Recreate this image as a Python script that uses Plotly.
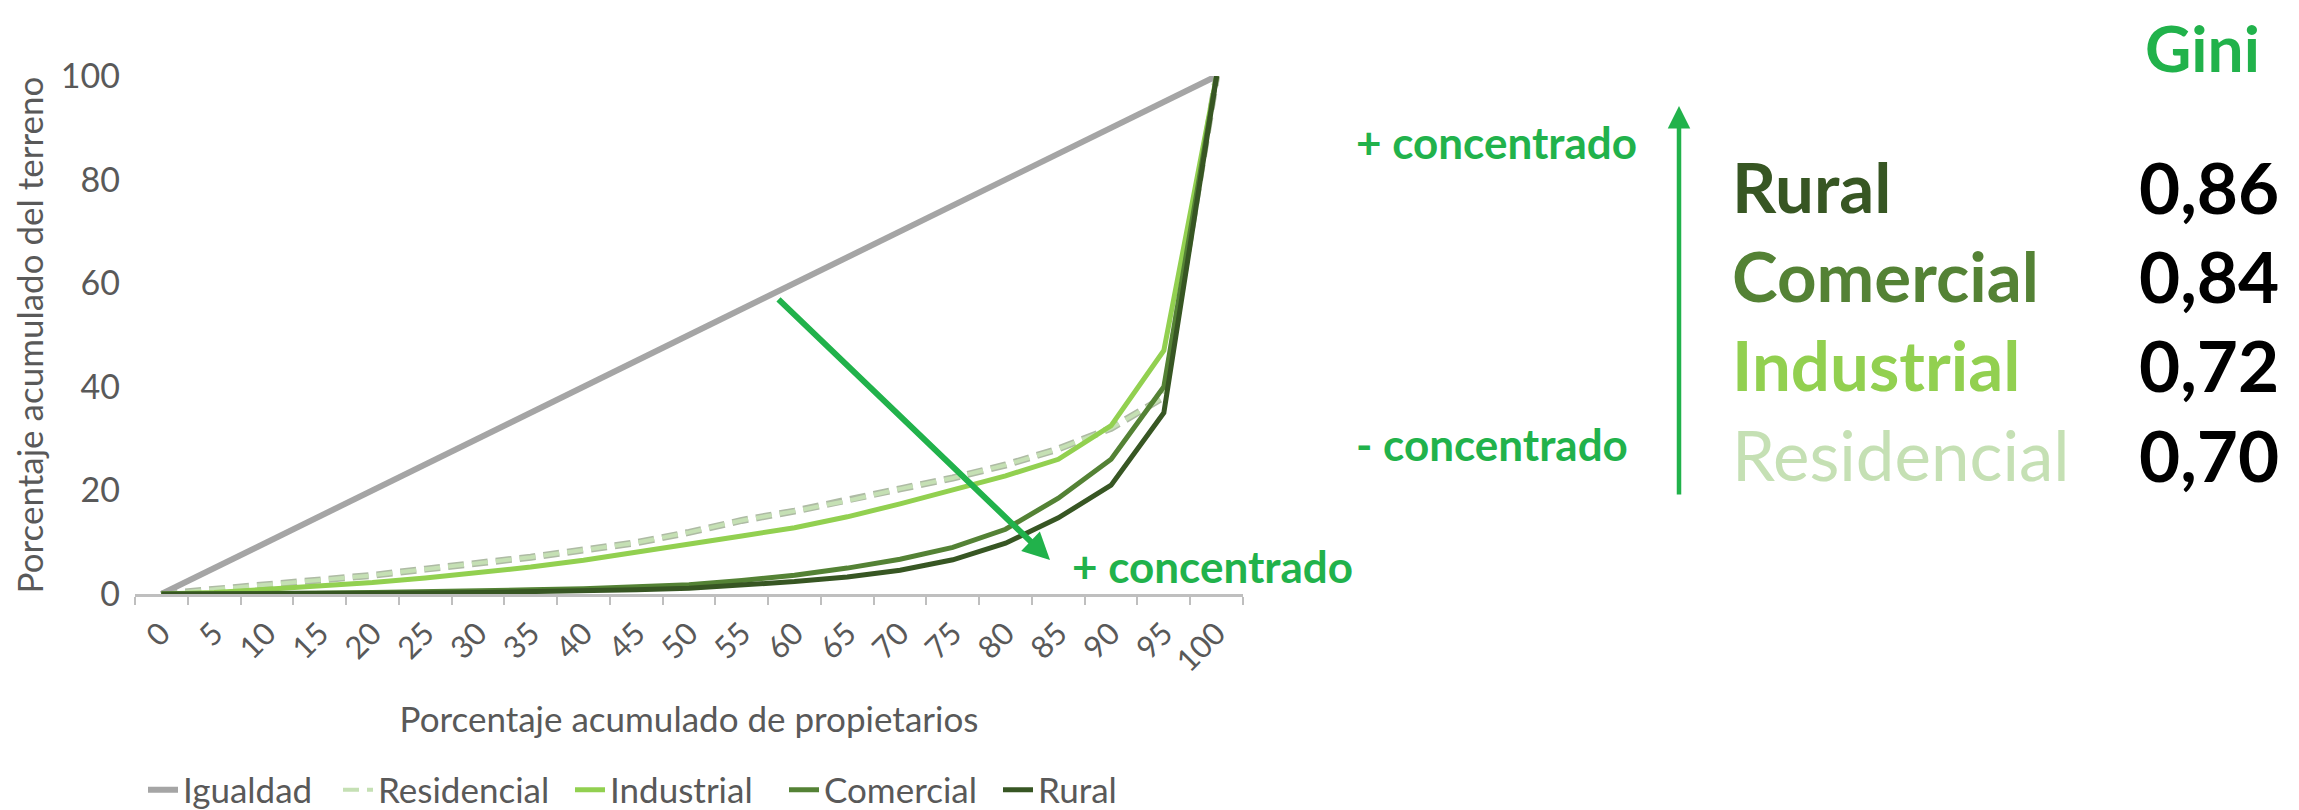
import plotly.graph_objects as go

# cumulative % of owners (categories on the x axis)
categorias = [str(v) for v in range(0, 101, 5)]

igualdad = [0, 5, 10, 15, 20, 25, 30, 35, 40, 45, 50, 55, 60, 65, 70, 75, 80, 85, 90, 95, 100]
residencial = [0, 0.9, 1.7, 2.7, 3.6, 4.8, 5.9, 7.1, 8.5, 9.9, 11.9, 14.2, 16.0, 18.0, 20.3, 22.4, 24.9, 28.0, 32.0, 38.0, 100]
industrial = [0, 0.3, 0.9, 1.5, 2.2, 3.1, 4.1, 5.2, 6.5, 8.0, 9.6, 11.2, 12.8, 14.9, 17.4, 20.1, 22.8, 26.0, 32.5, 47.0, 100]
comercial = [0, 0, 0.1, 0.2, 0.3, 0.4, 0.6, 0.8, 1.0, 1.3, 1.8, 2.6, 3.6, 5.0, 6.7, 9.0, 12.5, 18.5, 26.0, 40.0, 100]
rural = [0, 0, 0, 0.1, 0.1, 0.2, 0.3, 0.4, 0.6, 0.8, 1.1, 1.7, 2.4, 3.3, 4.6, 6.6, 9.8, 14.7, 21.0, 35.0, 100]

gini_nombres = ["Rural", "Comercial", "Industrial", "Residencial"]
gini_valores = ["0,86", "0,84", "0,72", "0,70"]

GRIS = "#595959"
VERDE = "#21B24B"
colores = {"Igualdad": "#A5A5A5", "Residencial": "#C5E0B4", "Industrial": "#92D050",
           "Comercial": "#548235", "Rural": "#375623"}

# page has an 8px body margin, so the figure is drawn 8px in from the corner
OFF = 8
W, H = 2299 - OFF, 830
# plot area in page pixels
L, R, T, B = 135, 1243, 76, 594


def px(x):
    return (x - L) / (R - L)


def py(y):
    return (B - y) / (B - T)


fig = go.Figure()
# thin grey rim under the dashed residential curve
fig.add_trace(go.Scatter(x=categorias, y=residencial, mode="lines", showlegend=False,
                         hoverinfo="skip", line=dict(color="#AEBBA4", width=7, dash="16px,8px")))
series = [("Igualdad", igualdad, "solid", 6), ("Residencial", residencial, "16px,8px", 4),
          ("Industrial", industrial, "solid", 5), ("Comercial", comercial, "solid", 5),
          ("Rural", rural, "solid", 5)]
# one small legend per series so the entries sit where the reference puts them
leg_texto_x = [183, 378, 610, 824, 1038]
leyendas = {}
for i, (nombre, vals, dash, w) in enumerate(series):
    key = "legend" if i == 0 else "legend%d" % (i + 1)
    fig.add_trace(go.Scatter(x=categorias, y=vals, name=nombre, mode="lines", legend=key,
                             line=dict(color=colores[nombre], width=w, dash=dash)))
    leyendas[key] = dict(orientation="h", x=px(leg_texto_x[i] - 40), y=py(790),
                         xanchor="left", yanchor="middle", itemwidth=30,
                         font=dict(size=35, color=GRIS, family="Lato"))

fig.update_xaxes(type="category", range=[-0.5, 20.5], tickson="boundaries", automargin=False,
                 ticks="outside", ticklen=8, tickwidth=2, tickcolor="#BFBFBF",
                 showline=True, linecolor="#BFBFBF", linewidth=3, showgrid=False,
                 tickangle=-45, ticklabelstandoff=6, tickfont=dict(size=31, color=GRIS),
                 title=dict(text="Porcentaje acumulado de propietarios",
                            font=dict(size=35, color=GRIS), standoff=30))
fig.update_yaxes(range=[0, 100], tickvals=[0, 20, 40, 60, 80, 100], showgrid=False,
                 zeroline=False, showline=False, ticks="", ticklabelstandoff=14, automargin=False,
                 tickfont=dict(size=34, color=GRIS),
                 title=dict(text="Porcentaje acumulado del terreno",
                            font=dict(size=35, color=GRIS), standoff=8))

anns = []
# Gini table on the right
anns.append(dict(x=px(2262), y=py(47), text="<b>Gini</b>", xanchor="right", yanchor="middle",
                 font=dict(size=64, color=VERDE)))
filas_y = [186, 275, 364, 454]
for nombre, valor, yy in zip(gini_nombres, gini_valores, filas_y):
    txt = nombre if nombre == "Residencial" else "<b>%s</b>" % nombre
    anns.append(dict(x=px(1730), y=py(yy), text=txt, xanchor="left", yanchor="middle",
                     font=dict(size=69, color=colores[nombre])))
    anns.append(dict(x=px(2281), y=py(yy), text="<b>%s</b>" % valor, xanchor="right",
                     yanchor="middle", font=dict(size=71, color="black")))

anns.append(dict(x=px(1354), y=py(142), text="<b>+ concentrado</b>", xanchor="left",
                 yanchor="middle", font=dict(size=44, color=VERDE)))
anns.append(dict(x=px(1354), y=py(444), text="<b>- concentrado</b>", xanchor="left",
                 yanchor="middle", font=dict(size=44, color=VERDE)))
anns.append(dict(x=px(1070), y=py(566), text="<b>+ concentrado</b>", xanchor="left",
                 yanchor="middle", font=dict(size=44, color=VERDE)))

# arrows
anns.append(dict(x=px(1679), y=py(106), ax=0, ay=390, showarrow=True, arrowhead=2,
                 arrowsize=1, arrowwidth=4.5, arrowcolor=VERDE, text=""))
anns.append(dict(x=px(1050), y=py(560), ax=-273, ay=-262, showarrow=True, arrowhead=2,
                 arrowsize=0.9, arrowwidth=6, arrowcolor=VERDE, text=""))

for a in anns:
    a.setdefault("xref", "paper")
    a.setdefault("yref", "paper")
    a.setdefault("showarrow", False)
    a.setdefault("font", {})
    a["font"]["family"] = "Lato"

fig.update_layout(
    width=W, height=H,
    margin=dict(l=L - OFF, r=W - (R - OFF), t=T - OFF, b=H - (B - OFF)),
    paper_bgcolor="white", plot_bgcolor="white",
    font=dict(family="Lato", color=GRIS),
    showlegend=True,
    annotations=anns,
    **leyendas,
)

fig.write_html("out.html")
